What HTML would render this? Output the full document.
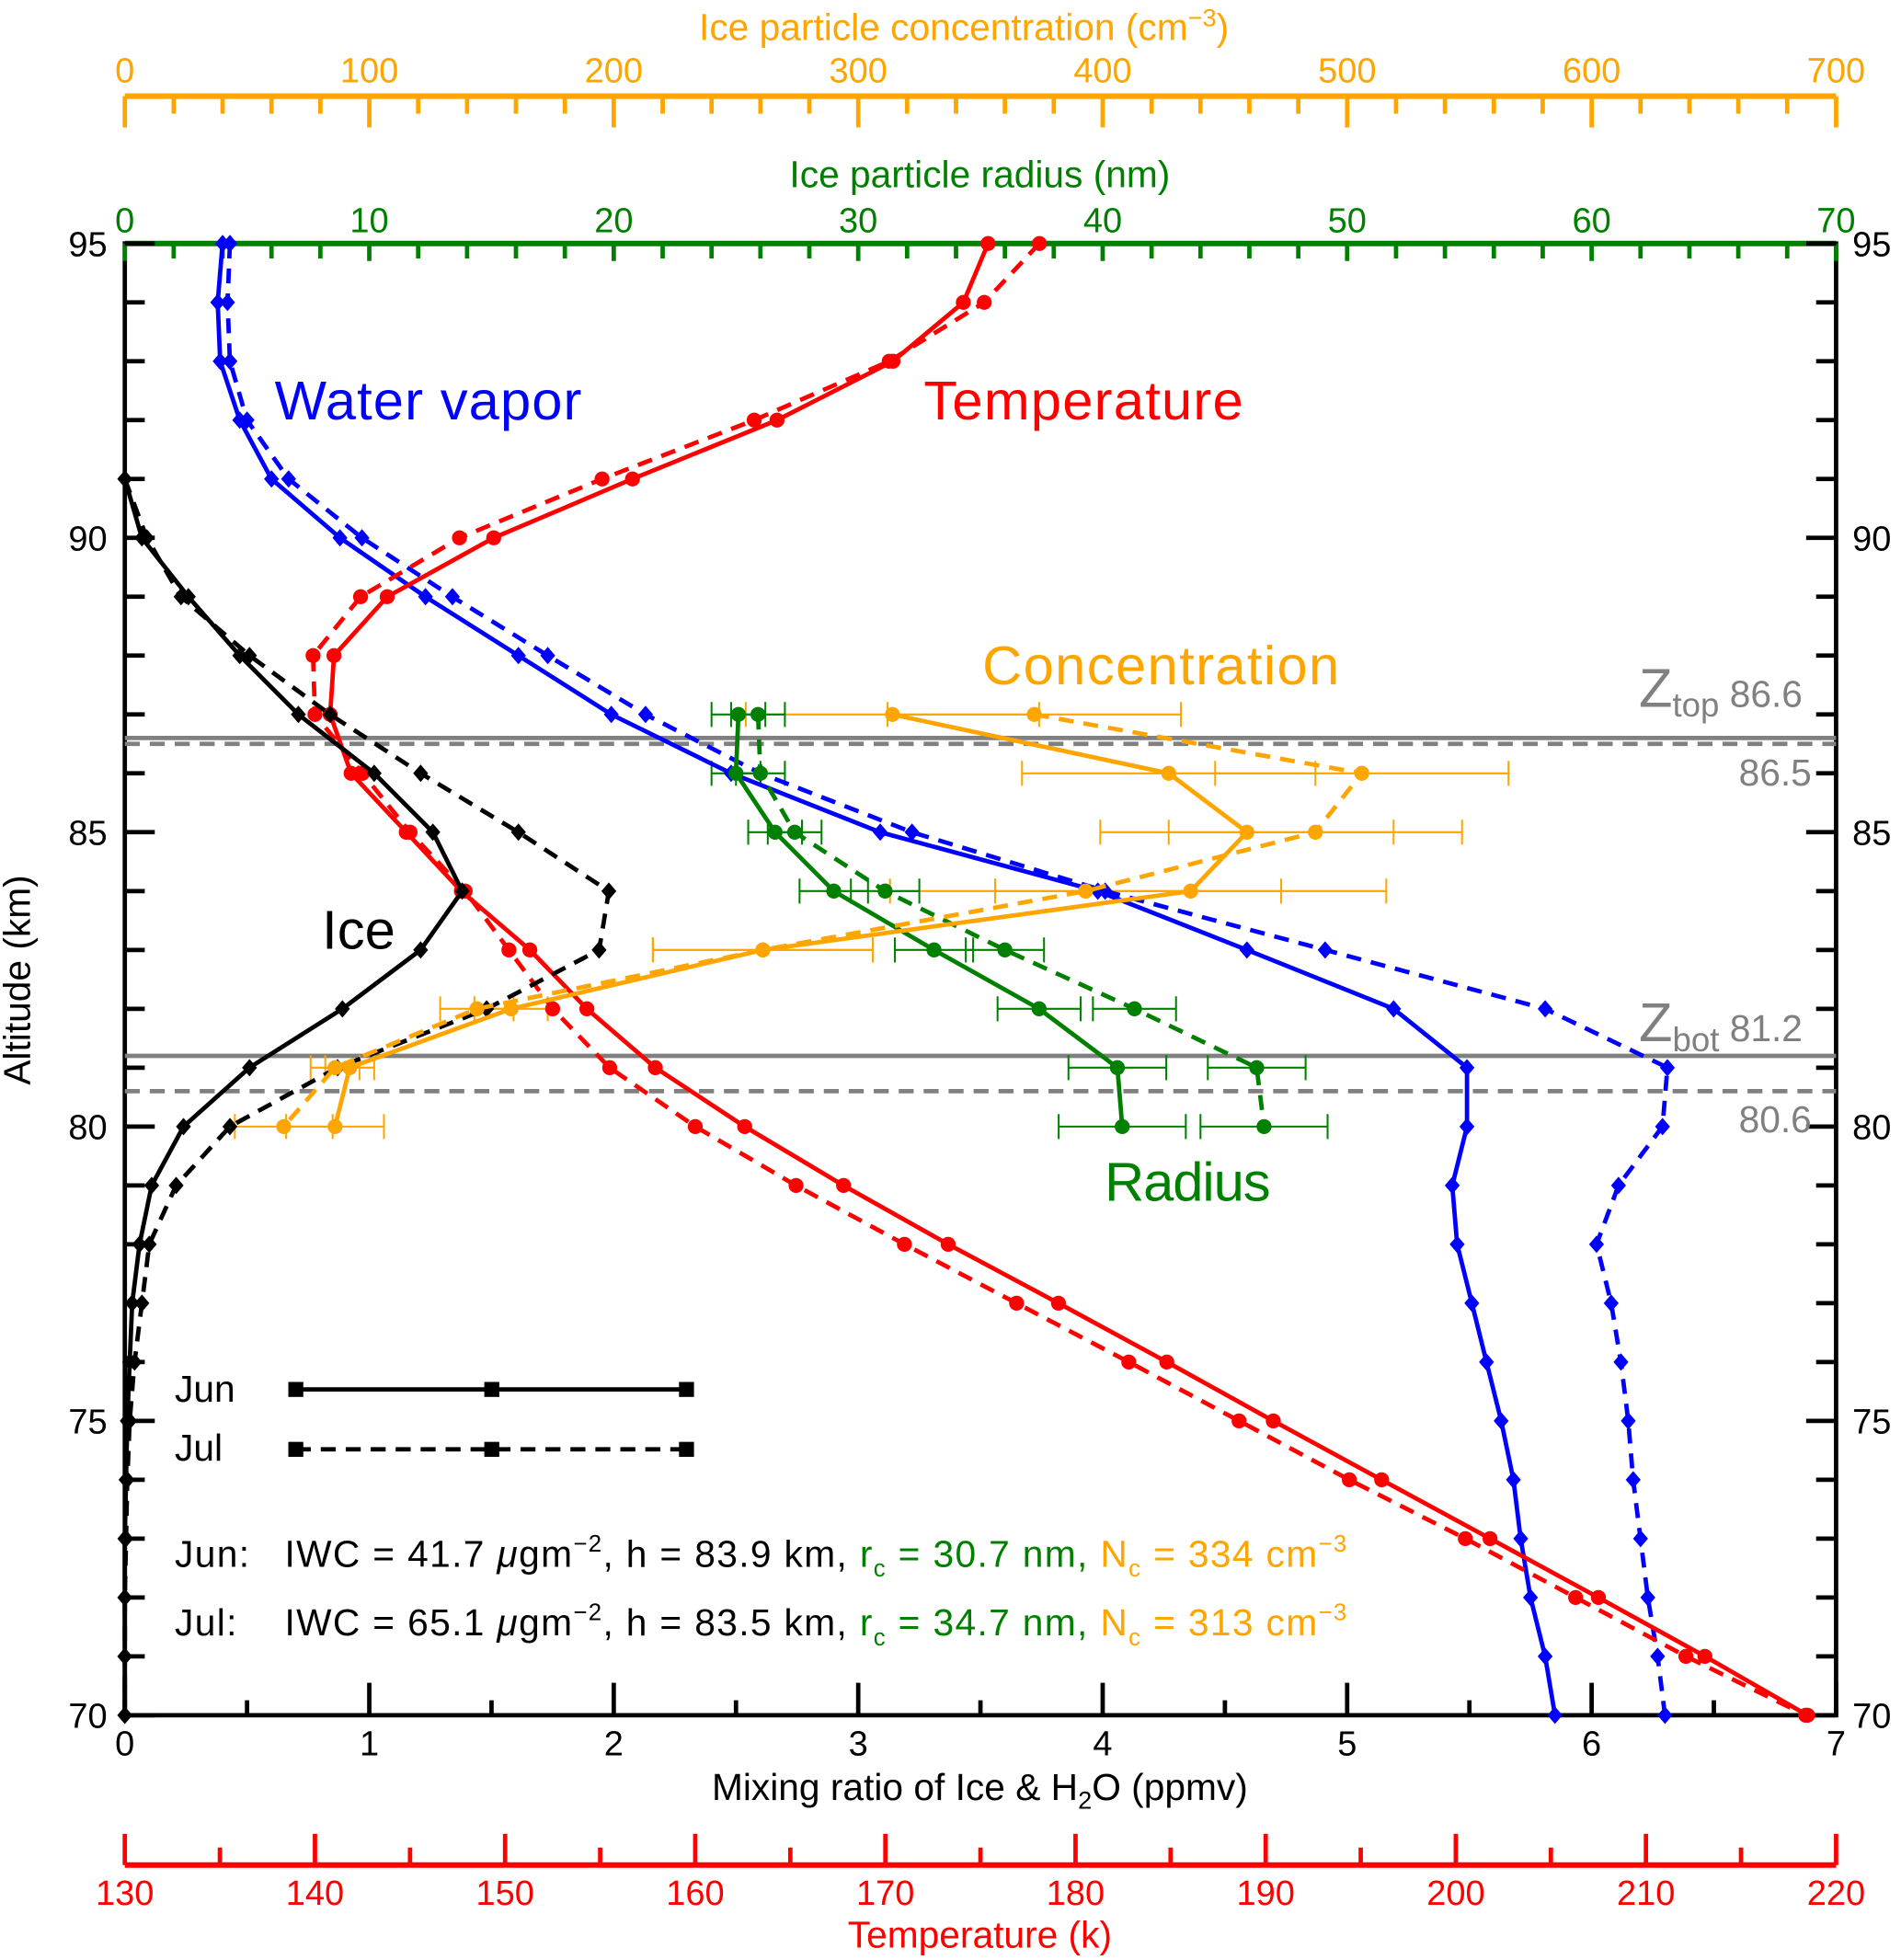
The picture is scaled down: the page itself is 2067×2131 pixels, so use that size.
<!DOCTYPE html>
<html><head><meta charset="utf-8"><style>html,body{margin:0;padding:0;background:#fff}svg{display:block}text{font-family:"Liberation Sans","DejaVu Sans",sans-serif}</style></head>
<body>
<svg id="chart" width="2067" height="2131" viewBox="0 0 1523 1570" xmlns="http://www.w3.org/2000/svg">
<g id="axes"></g>
<g id="marks"></g>
<g id="labels">
<text x="220" y="336" font-size="44" fill="#0000ff" textLength="246">Water vapor</text>
<text x="740" y="336" font-size="44" fill="#ff0000" textLength="256">Temperature</text>
<text x="787" y="548" font-size="44" fill="#ffa500" textLength="286">Concentration</text>
<text x="258" y="760" font-size="44" fill="#000">Ice</text>
<text x="885" y="962" font-size="44" fill="#008000" textLength="133">Radius</text>
<text x="1313" y="566" font-size="44" fill="#808080">Z<tspan font-size="27" dy="8">top</tspan><tspan font-size="30" dy="-8"> 86.6</tspan></text>
<text x="1393" y="629" font-size="30" fill="#808080">86.5</text>
<text x="1313" y="834" font-size="44" fill="#808080">Z<tspan font-size="27" dy="8">bot</tspan><tspan font-size="30" dy="-8"> 81.2</tspan></text>
<text x="1393" y="907" font-size="30" fill="#808080">80.6</text>
<text x="140" y="1123" font-size="30">Jun</text>
<text x="140" y="1170" font-size="30">Jul</text>
<text x="140" y="1255" font-size="30" letter-spacing="1">Jun:<tspan x="228">IWC = 41.7 </tspan><tspan font-style="italic">μ</tspan>gm<tspan font-size="19" dy="-12">−2</tspan><tspan dy="12">, h = 83.9 km, </tspan><tspan fill="#008000">r<tspan font-size="19" dy="8">c</tspan><tspan dy="-8"> = 30.7 nm, </tspan></tspan><tspan fill="#ffa500">N<tspan font-size="19" dy="8">c</tspan><tspan dy="-8"> = 334 cm</tspan><tspan font-size="19" dy="-12">−3</tspan></tspan></text>
<text x="140" y="1310" font-size="30" letter-spacing="1">Jul:<tspan x="228">IWC = 65.1 </tspan><tspan font-style="italic">μ</tspan>gm<tspan font-size="19" dy="-12">−2</tspan><tspan dy="12">, h = 83.5 km, </tspan><tspan fill="#008000">r<tspan font-size="19" dy="8">c</tspan><tspan dy="-8"> = 34.7 nm, </tspan></tspan><tspan fill="#ffa500">N<tspan font-size="19" dy="8">c</tspan><tspan dy="-8"> = 313 cm</tspan><tspan font-size="19" dy="-12">−3</tspan></tspan></text>
<text x="785" y="1442" font-size="30" text-anchor="middle">Mixing ratio of Ice &amp; H<tspan font-size="20" dy="7">2</tspan><tspan dy="-7">O (ppmv)</tspan></text>
<text x="785" y="1560" font-size="30" text-anchor="middle" fill="#ff0000">Temperature (k)</text>
<text x="785" y="150" font-size="30" text-anchor="middle" fill="#008000">Ice particle radius (nm)</text>
<text x="560" y="32" font-size="30" fill="#ffa500">Ice particle concentration (cm<tspan font-size="20" dy="-11">−3</tspan><tspan dy="11">)</tspan></text>
<text transform="translate(24,785) rotate(-90)" font-size="30" text-anchor="middle">Altitude (km)</text>
</g>
</svg>
<script>
const altWV = [95,94,93,92,91,90,89,88,87,86,85,84,83,82,81,80,79,78,77,76,75,74,73,72,71,70];
const wvJun = [0.40,0.38,0.39,0.47,0.60,0.88,1.23,1.61,1.99,2.48,3.09,3.98,4.59,5.19,5.49,5.49,5.43,5.45,5.51,5.57,5.63,5.68,5.71,5.75,5.81,5.85];
const wvJul = [0.43,0.42,0.43,0.50,0.67,0.97,1.34,1.73,2.13,2.60,3.22,4.01,4.91,5.81,6.31,6.29,6.11,6.02,6.08,6.12,6.15,6.17,6.20,6.23,6.27,6.30];
const tJun = [175.4,174.1,170.4,164.3,156.7,149.4,143.8,141.0,140.8,141.9,144.8,147.7,151.3,154.3,157.9,162.6,167.8,173.3,179.1,184.8,190.4,196.1,201.8,207.5,213.1,218.5];
const tJul = [178.1,175.2,170.2,163.1,155.1,147.6,142.4,139.9,140.0,142.5,145.0,147.9,150.2,152.5,155.5,160.0,165.3,171.0,176.9,182.8,188.6,194.4,200.5,206.3,212.1,218.4];
const altIce = [91,90,89,88,87,86,85,84,83,82,81,80,79,78,77,76,75,74,73,72,71,70];
const iceJun = [0,0.07,0.26,0.47,0.71,1.02,1.26,1.38,1.21,0.89,0.51,0.24,0.11,0.06,0.03,0.02,0.01,0.005,0,0,0,0];
const iceJul = [0,0.09,0.23,0.51,0.84,1.21,1.61,1.98,1.94,1.48,0.87,0.43,0.21,0.10,0.07,0.04,0.02,0.01,0.005,0,0,0];
const altCld = [87,86,85,84,83,82,81,80];
const radJun = [25.1,25.0,26.6,29.0,33.1,37.4,40.6,40.8];
const radJul = [25.9,26.0,27.4,31.1,36.0,41.3,46.3,46.6];
const radErr = [1.1,1.0,1.1,1.4,1.6,1.7,2.0,2.6];
const conJun = [314,427,459,436,261,158,92,86];
const conJul = [372,506,487,393,261,144,86,65];
const conErr = [60,60,60,80,45,15,10,20];
const zLinesJun = [86.6,81.2];
const zLinesJul = [86.5,80.6];
const xTicks = [0,1,2,3,4,5,6,7];
const yTicks = [70,75,80,85,90,95];
const rTicks = [0,10,20,30,40,50,60,70];
const cTicks = [0,100,200,300,400,500,600,700];
const tTicks = [130,140,150,160,170,180,190,200,210,220];

const X0=100,X1=1471,Y0=195,Y1=1374;
const xs = v => X0 + (v/7)*(X1-X0);
const xr = v => X0 + (v/70)*(X1-X0);
const xc = v => X0 + (v/700)*(X1-X0);
const xt = v => X0 + ((v-130)/90)*(X1-X0);
const ys = a => Y1 - ((a-70)/25)*(Y1-Y0);
const NS="http://www.w3.org/2000/svg";
const axes=document.getElementById('axes'), marks=document.getElementById('marks');
function mk(tag, attrs, parent){const e=document.createElementNS(NS,tag);for(const k in attrs)e.setAttribute(k,attrs[k]);parent.appendChild(e);return e;}
function txt(s,x,y,attrs,parent){const e=mk('text',Object.assign({x:x,y:y},attrs),parent);e.textContent=s;return e;}

let fr=mk('rect',{x:X0,y:Y0,width:X1-X0,height:Y1-Y0,fill:'none',stroke:'#000','stroke-width':3.5},axes);


let gl=mk('line',{x1:X0,y1:Y0,x2:X1,y2:Y0,stroke:'#008000','stroke-width':4.5},axes);


for(let v=0;v<=70;v+=2){const big=v%10===0;mk('line',{x1:xr(v),y1:Y0,x2:xr(v),y2:Y0+(big?14:12),stroke:'#008000','stroke-width':3.5},axes);}
rTicks.forEach(v=>{const t=txt(String(v),xr(v),186,{'font-size':28,fill:'#008000','text-anchor':'middle'},axes);

});
let ol=mk('line',{x1:X0,y1:77,x2:X1,y2:77,stroke:'#ffa500','stroke-width':4.5},axes);


for(let v=0;v<=700;v+=20){const big=v%100===0;mk('line',{x1:xc(v),y1:77,x2:xc(v),y2:big?102:91,stroke:'#ffa500','stroke-width':3.5},axes);}
cTicks.forEach(v=>{const t=txt(String(v),xc(v),66,{'font-size':28,fill:'#ffa500','text-anchor':'middle'},axes);

});
let rl=mk('line',{x1:X0,y1:1494,x2:X1,y2:1494,stroke:'#ff0000','stroke-width':4.5},axes);


for(let v=130;v<=220;v+=5){const big=v%10===0;mk('line',{x1:xt(v),y1:1494,x2:xt(v),y2:big?1469:1480,stroke:'#ff0000','stroke-width':3.5},axes);}
tTicks.forEach(v=>{const t=txt(String(v),xt(v),1526,{'font-size':28,fill:'#ff0000','text-anchor':'middle'},axes);

});
for(let v=0;v<=7;v+=0.5){const big=Number.isInteger(v);mk('line',{x1:xs(v),y1:Y1,x2:xs(v),y2:Y1-(big?26:12),stroke:'#000','stroke-width':3.5},axes);}
xTicks.forEach(v=>{const t=txt(String(v),xs(v),1406,{'font-size':28,'text-anchor':'middle'},axes);

});
for(let a=70;a<=95;a++){const big=a%5===0;const L=big?24:16;
mk('line',{x1:X0,y1:ys(a),x2:X0+L,y2:ys(a),stroke:'#000','stroke-width':3.5},axes);
mk('line',{x1:X1,y1:ys(a),x2:X1-L,y2:ys(a),stroke:'#000','stroke-width':3.5},axes);}
yTicks.forEach(a=>{let t=txt(String(a),86,ys(a)+10,{'font-size':28,'text-anchor':'end'},axes);


t=txt(String(a),1484,ys(a)+10,{'font-size':28},axes);

});

zLinesJun.forEach(z=>{const l=mk('line',{x1:X0,y1:ys(z),x2:X1,y2:ys(z),stroke:'#808080','stroke-width':3.5},marks);

});
zLinesJul.forEach(z=>{const l=mk('line',{x1:X0,y1:ys(z),x2:X1,y2:ys(z),stroke:'#808080','stroke-width':3.5,'stroke-dasharray':'12,8'},marks);

});

function series(name,vals,alts,xf,color,dashed,marker){
  const g=mk('g',{},marks);
  
  
  const pts=vals.map((v,i)=>xf(v).toFixed(1)+','+ys(alts[i]).toFixed(1)).join(' ');
  mk('polyline',{points:pts,fill:'none',stroke:color,'stroke-width':3.5,'stroke-dasharray':dashed?'12,8':'none'},g);
  vals.forEach((v,i)=>{const x=xf(v),y=ys(alts[i]);let m;
    if(marker==='d'){m=mk('polygon',{points:`${x},${y-7} ${x+6},${y} ${x},${y+7} ${x-6},${y}`,fill:color},g);}
    else{m=mk('circle',{cx:x,cy:y,r:6,fill:color},g);}
    
    });
}
function errbars(name,vals,errs,xf,color){
  const g=mk('g',{},marks);
  
  
  vals.forEach((v,i)=>{const y=ys(altCld[i]);const a=xf(v-errs[i]),b=xf(v+errs[i]);
    mk('line',{x1:a,y1:y,x2:b,y2:y,stroke:color,'stroke-width':1.5},g);
    mk('line',{x1:a,y1:y-10,x2:a,y2:y+10,stroke:color,'stroke-width':1.5},g);
    mk('line',{x1:b,y1:y-10,x2:b,y2:y+10,stroke:color,'stroke-width':1.5},g);});
}
errbars('concentration-error-jun',conJun,conErr,xc,'#ffa500');
errbars('concentration-error-jul',conJul,conErr,xc,'#ffa500');
errbars('radius-error-jun',radJun,radErr,xr,'#008000');
errbars('radius-error-jul',radJul,radErr,xr,'#008000');
series('water-vapor-jun',wvJun,altWV,xs,'#0000ff',false,'d');
series('water-vapor-jul',wvJul,altWV,xs,'#0000ff',true,'d');
series('temperature-jun',tJun,altWV,xt,'#ff0000',false,'c');
series('temperature-jul',tJul,altWV,xt,'#ff0000',true,'c');
series('ice-jun',iceJun,altIce,xs,'#000',false,'d');
series('ice-jul',iceJul,altIce,xs,'#000',true,'d');
series('radius-jun',radJun,altCld,xr,'#008000',false,'c');
series('radius-jul',radJul,altCld,xr,'#008000',true,'c');
series('concentration-jun',conJun,altCld,xc,'#ffa500',false,'c');
series('concentration-jul',conJul,altCld,xc,'#ffa500',true,'c');

[[1113,false,'legend-jun-line'],[1161,true,'legend-jul-line']].forEach(([y,d,n])=>{
  const g=mk('g',{},marks);
  
  
  mk('line',{x1:237,y1:y,x2:550,y2:y,stroke:'#000','stroke-width':3.5,'stroke-dasharray':d?'12,8':'none'},g);
  [237,394,550].forEach(x=>mk('rect',{x:x-6,y:y-6,width:12,height:12,fill:'#000'},g));
});
</script>
</body></html>
